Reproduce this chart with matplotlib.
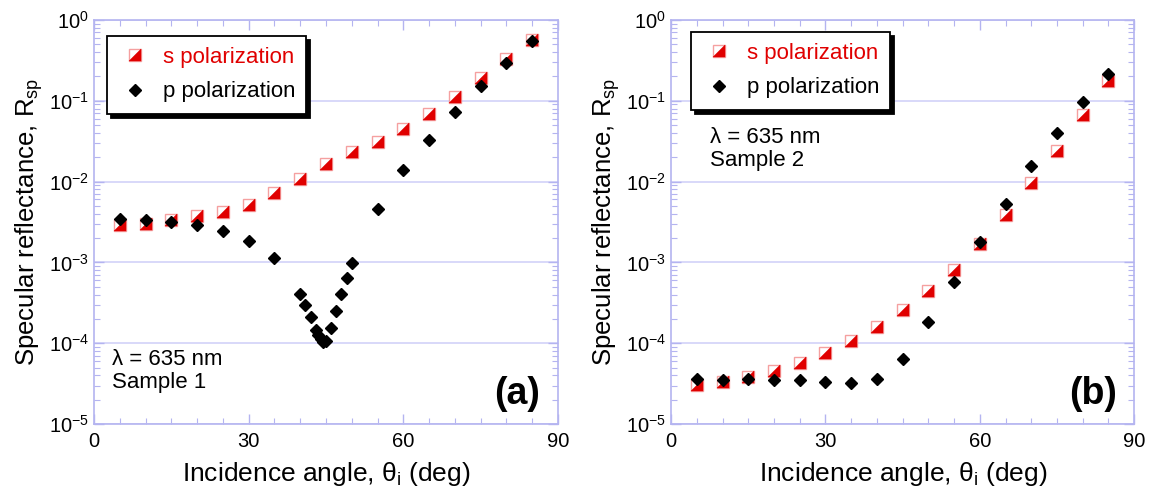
import numpy as np
import matplotlib
matplotlib.use("Agg")
from matplotlib import pyplot as plt
from matplotlib.path import Path
from matplotlib.ticker import LogLocator, MultipleLocator, NullFormatter

plt.rcParams['font.family'] = ['Liberation Sans', 'DejaVu Sans']
plt.rcParams['mathtext.fontset'] = 'custom'
plt.rcParams['mathtext.rm'] = 'Liberation Sans'
plt.rcParams['mathtext.it'] = 'Liberation Sans'

# ---- data ----
angles = [5, 10, 15, 20, 25, 30, 35, 40, 45, 50, 55, 60, 65, 70, 75, 80, 85]

s1 = [2.9e-3, 2.95e-3, 3.35e-3, 3.7e-3, 4.2e-3, 5.1e-3, 7.2e-3, 1.07e-2, 1.65e-2,
      2.3e-2, 3.1e-2, 4.5e-2, 6.9e-2, 0.112, 0.19, 0.327, 0.565]

p1_angles = [5, 10, 15, 20, 25, 30, 35, 40, 41, 42, 43, 43.5, 44, 44.5, 45,
             46, 47, 48, 49, 50, 55, 60, 65, 70, 75, 80, 85]
p1 = [3.4e-3, 3.35e-3, 3.16e-3, 2.9e-3, 2.47e-3, 1.86e-3, 1.12e-3, 4.1e-4, 3.0e-4,
      2.1e-4, 1.47e-4, 1.25e-4, 1.12e-4, 1.05e-4, 1.08e-4, 1.53e-4, 2.5e-4, 4.1e-4,
      6.5e-4, 9.8e-4, 4.6e-3, 1.39e-2, 3.3e-2, 7.2e-2, 0.15, 0.29, 0.54]

s2 = [3.04e-5, 3.28e-5, 3.8e-5, 4.5e-5, 5.7e-5, 7.6e-5, 1.07e-4, 1.6e-4, 2.58e-4,
      4.4e-4, 8.05e-4, 1.67e-3, 3.86e-3, 9.7e-3, 2.4e-2, 6.7e-2, 0.176]
p2 = [3.6e-5, 3.5e-5, 3.57e-5, 3.5e-5, 3.47e-5, 3.27e-5, 3.19e-5, 3.6e-5, 6.45e-5,
      1.83e-4, 5.7e-4, 1.8e-3, 5.3e-3, 1.55e-2, 4.0e-2, 9.7e-2, 0.215]

AX_COL = '#b4b4f0'
GRID_COL = '#d2d2f8'
RED = '#e00000'
PINK = '#f5a0a0'

# half-filled square: lower-right triangle
tri = Path([(-1, -1), (1, -1), (1, 1), (-1, -1)],
           [Path.MOVETO, Path.LINETO, Path.LINETO, Path.CLOSEPOLY])


def s_marks(ax, x, y, ms=8.5):
    a = ax.plot(x, y, ls='none', marker='s', ms=ms, mfc='white', mec=PINK, mew=1.0, zorder=3)[0]
    b = ax.plot(x, y, ls='none', marker=tri, ms=ms, mfc=RED, mec=RED, mew=0.3, zorder=4)[0]
    return a, b


def style_axes(ax):
    ax.set_yscale('log')
    ax.set_xlim(0, 90)
    ax.set_ylim(1e-5, 1)
    ax.xaxis.set_major_locator(MultipleLocator(30))
    ax.xaxis.set_minor_locator(MultipleLocator(5))
    ax.yaxis.set_major_locator(LogLocator(base=10, numticks=10))
    ax.yaxis.set_minor_locator(LogLocator(base=10, subs=np.arange(2, 10), numticks=20))
    ax.yaxis.set_minor_formatter(NullFormatter())
    for sp in ax.spines.values():
        sp.set_color(AX_COL)
        sp.set_linewidth(1.2)
    ax.tick_params(which='both', direction='in', top=True, right=True, colors=AX_COL,
                   labelcolor='black')
    ax.tick_params(which='major', length=7, width=1, labelsize=14.5)
    ax.tick_params(which='minor', length=4, width=0.8)
    ax.tick_params(axis='x', which='major', pad=6)
    ax.grid(True, which='major', axis='y', color=GRID_COL, lw=1.2)
    ax.set_axisbelow(True)
    ax.set_xlabel(r'Incidence angle, $\theta_{\rm i}$ (deg)', fontsize=19, labelpad=6)
    ax.set_ylabel(r'Specular reflectance, R$_{\rm sp}$', fontsize=18.5, labelpad=3)


def legend(ax, x0, y0):
    h1 = ax.plot([], [], ls='none', marker='s', ms=8, mfc='white', mec=PINK, mew=1.0)[0]
    h1b = ax.plot([], [], ls='none', marker=tri, ms=8, mfc=RED, mec=RED, mew=0.3)[0]
    h2 = ax.plot([], [], ls='none', marker='D', ms=6, mfc='black', mec='black')[0]
    leg = ax.legend([(h1, h1b), h2], ['s polarization', 'p polarization'], loc='upper left',
                    bbox_to_anchor=(x0, y0), borderaxespad=0, fontsize=16, frameon=True,
                    fancybox=False, edgecolor='black', framealpha=1,
                    shadow={'color': 'black', 'alpha': 1, 'ox': 3, 'oy': -3},
                    handletextpad=0.5, borderpad=0.5, labelspacing=0.6, handlelength=1.5)
    leg.get_frame().set_linewidth(1.3)
    leg.get_texts()[0].set_color(RED)
    return leg


fig = plt.figure(figsize=(11.55, 4.96), dpi=100)
ax1 = fig.add_axes([0.0814, 0.145, 0.4017, 0.815])
ax2 = fig.add_axes([0.581, 0.145, 0.401, 0.815])

# panel (a)
style_axes(ax1)
s_marks(ax1, angles, s1)
ax1.plot(p1_angles, p1, ls='none', marker='D', ms=6, mfc='black', mec='black', zorder=5)
legend(ax1, 0.028, 0.96)
ax1.text(0.038, 0.077, 'λ = 635 nm\nSample 1', transform=ax1.transAxes, fontsize=16,
         ha='left', va='bottom', linespacing=1.15)
ax1.text(0.962, 0.03, '(a)', transform=ax1.transAxes, fontsize=27, fontweight='bold',
         ha='right', va='bottom')

# panel (b)
style_axes(ax2)
s_marks(ax2, angles, s2)
ax2.plot(angles, p2, ls='none', marker='D', ms=6, mfc='black', mec='black', zorder=5)
legend(ax2, 0.043, 0.97)
ax2.text(0.084, 0.625, 'λ = 635 nm\nSample 2', transform=ax2.transAxes, fontsize=16,
         ha='left', va='bottom', linespacing=1.15)
ax2.text(0.962, 0.03, '(b)', transform=ax2.transAxes, fontsize=27, fontweight='bold',
         ha='right', va='bottom')

fig.savefig('out.png', dpi=100)
